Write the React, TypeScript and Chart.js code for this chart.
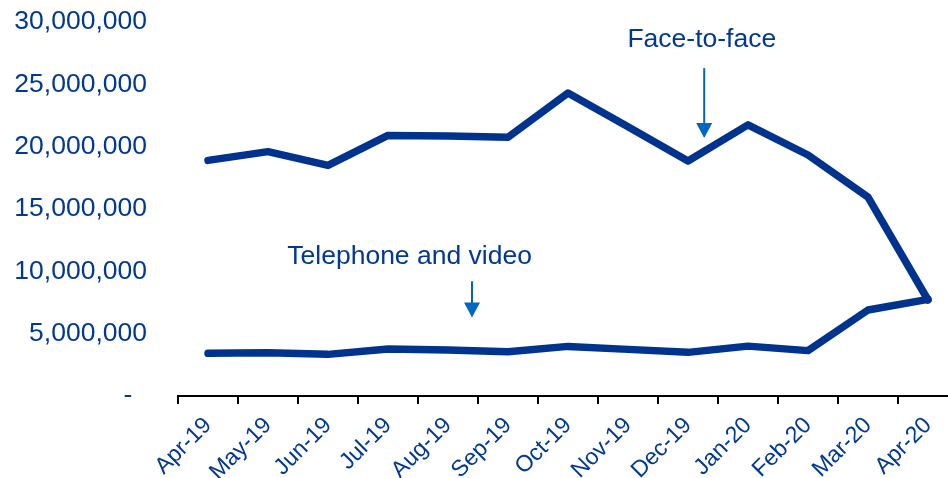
import React, { useEffect, useRef } from "react";
import { Chart, registerables } from "chart.js";

Chart.register(...registerables);

const months = ["Apr-19", "May-19", "Jun-19", "Jul-19", "Aug-19", "Sep-19", "Oct-19", "Nov-19", "Dec-19", "Jan-20", "Feb-20", "Mar-20", "Apr-20"];
const faceToFace = [18900000, 19600000, 18500000, 20900000, 20850000, 20750000, 24300000, 21600000, 18850000, 21750000, 19330000, 15950000, 7700000];
const telephoneVideo = [3420000, 3470000, 3340000, 3770000, 3690000, 3550000, 3980000, 3740000, 3500000, 4000000, 3640000, 6900000, 7750000];
const yTicks = [0, 5000000, 10000000, 15000000, 20000000, 25000000, 30000000];

// annotations: label text, label anchor (category index, value), arrow from/to values at category index
const annotationLabels = ["Face-to-face", "Telephone and video"];
const annotationLabelAt = [[8.23, 28550000], [3.36, 11200000]];
const annotationArrowAt = [[8.27, 26300000, 20700000], [4.4, 9200000, 6300000]];

const LINE = "#00338d";
const TEXT = "#003893";
const ARROW = "#0066c0";
const FONT = "Arial, 'Liberation Sans', sans-serif";

const annotationPlugin = {
  id: "annots",
  afterDatasetsDraw(chart: any) {
    const ctx = chart.ctx;
    const x = chart.scales.x;
    const y = chart.scales.y;
    ctx.save();
    ctx.fillStyle = TEXT;
    ctx.font = `26.5px ${FONT}`;
    ctx.textAlign = "center";
    ctx.textBaseline = "middle";
    annotationLabels.forEach((t, i) => {
      const [xi, v] = annotationLabelAt[i];
      ctx.fillText(t, x.getPixelForValue(xi), y.getPixelForValue(v));
    });
    annotationArrowAt.forEach(([xi, v1, v2]) => {
      const px = x.getPixelForValue(xi);
      const y1 = y.getPixelForValue(v1);
      const y2 = y.getPixelForValue(v2);
      const headH = 15;
      const headW = 16;
      ctx.strokeStyle = ARROW;
      ctx.lineWidth = 2;
      ctx.beginPath();
      ctx.moveTo(px, y1);
      ctx.lineTo(px, y2 - headH + 2);
      ctx.stroke();
      ctx.fillStyle = ARROW;
      ctx.beginPath();
      ctx.moveTo(px - headW / 2, y2 - headH);
      ctx.lineTo(px + headW / 2, y2 - headH);
      ctx.lineTo(px, y2);
      ctx.closePath();
      ctx.fill();
    });
    ctx.restore();
  },
};

export default function App() {
  const ref = useRef<HTMLCanvasElement | null>(null);
  useEffect(() => {
    if (!ref.current) return;
    const chart = new Chart(ref.current, {
      type: "line",
      data: {
        labels: months,
        datasets: [
          {
            label: "Face-to-face",
            data: faceToFace,
            borderColor: LINE,
            backgroundColor: LINE,
            borderWidth: 7.5,
            pointRadius: 0,
            borderCapStyle: "round",
            borderJoinStyle: "round",
            tension: 0,
          },
          {
            label: "Telephone and video",
            data: telephoneVideo,
            borderColor: LINE,
            backgroundColor: LINE,
            borderWidth: 7.5,
            pointRadius: 0,
            borderCapStyle: "round",
            borderJoinStyle: "round",
            tension: 0,
          },
        ],
      },
      options: {
        animation: false,
        responsive: false,
        maintainAspectRatio: false,
        layout: { padding: { top: 22, right: 0, bottom: 0, left: 0 } },
        plugins: { legend: { display: false }, tooltip: { enabled: false } },
        scales: {
          x: {
            offset: true,
            grid: { offset: true, drawOnChartArea: false, drawTicks: true, tickLength: 8, color: "#000", lineWidth: 2 },
            border: { display: true, color: "#000", width: 2 },
            ticks: {
              color: TEXT,
              font: { size: 23, family: FONT },
              minRotation: 45,
              maxRotation: 45,
              autoSkip: false,
              padding: 8,
            },
            afterFit(scale: any) {
              scale.height = 82;
              scale.paddingLeft = 0;
              scale.paddingRight = 0;
            },
          },
          y: {
            min: 0,
            max: 30000000,
            grid: { display: false, drawTicks: false },
            border: { display: false },
            afterBuildTicks(scale: any) {
              scale.ticks = yTicks.map((v) => ({ value: v }));
            },
            ticks: {
              color: TEXT,
              font: { size: 26.5, family: FONT },
              padding: 31,
              callback: (v: any) => (Number(v) === 0 ? "-  " : Number(v).toLocaleString("en-US")),
            },
            afterFit(scale: any) {
              scale.width = 178;
              scale.paddingTop = 0;
              scale.paddingBottom = 0;
            },
          },
        },
      },
      plugins: [annotationPlugin],
    });
    return () => chart.destroy();
  }, []);
  return (
    <div style={{ position: "fixed", left: 0, top: 0, width: 948, height: 478, overflow: "hidden", background: "#fff" }}>
      <canvas ref={ref} width={958} height={478} style={{ display: "block" }} />
    </div>
  );
}
